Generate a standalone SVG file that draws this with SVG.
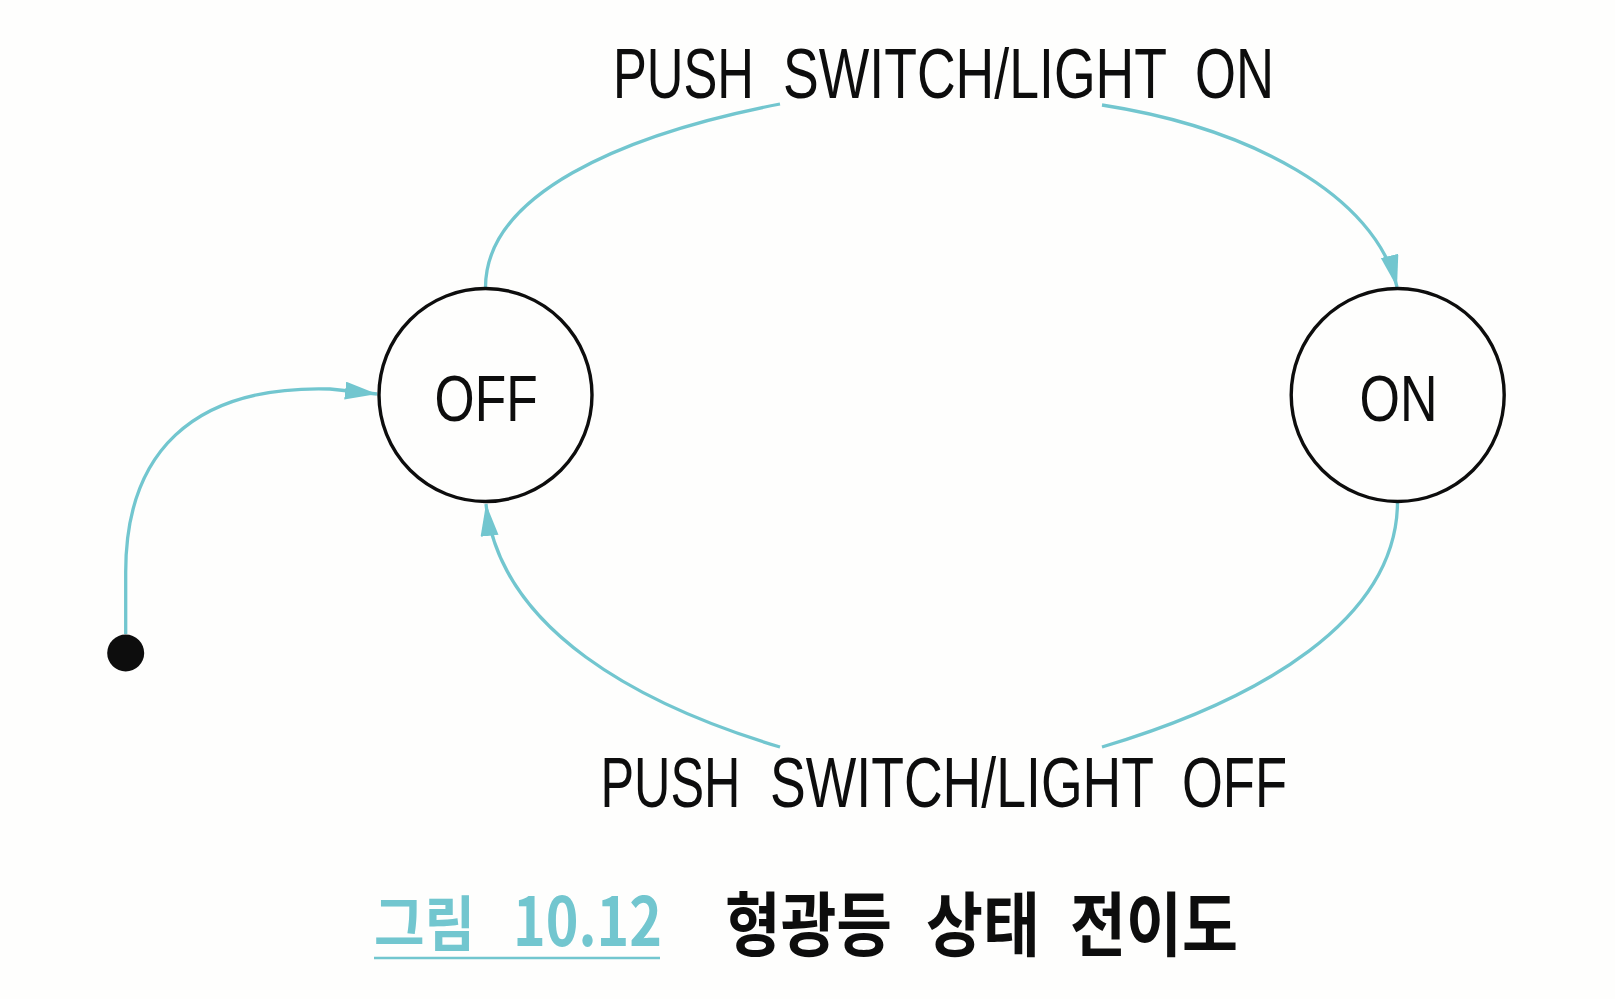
<svg xmlns="http://www.w3.org/2000/svg" width="1615" height="999" viewBox="0 0 1615 999">
<defs>
<style>
.st{fill:#fefefd;stroke:#0d0d0d;stroke-width:3.4}
.lbl{font-family:"Liberation Sans",Arial,sans-serif;fill:#0d0d0d}
.tl{font-family:"Liberation Sans",Arial,sans-serif;fill:#0d0d0d;font-size:52.6px}
.edge{fill:none;stroke:#72c6cf;stroke-width:3.3}
.cap{font-family:"Noto Sans CJK KR","Noto Sans",sans-serif}
</style>
<marker id="ah" markerUnits="userSpaceOnUse" markerWidth="34" markerHeight="20" refX="32" refY="9" orient="auto">
<path d="M0,0 L32,9 L0,18 z" fill="#72c6cf"/>
</marker>
</defs>
<rect width="1615" height="999" fill="#fefefd"/>
<g id="connectors">
<path class="edge" d="M125.7,634 V572 C125.7,455 190,385 330,389 L377,394" marker-end="url(#ah)"/>
<path class="edge" d="M485.5,288 C485,195 620,135 780,104"/>
<path class="edge" d="M1102,105 C1250,128 1375,195 1397,287" marker-end="url(#ah)"/>
<path class="edge" d="M1397.5,502 C1397,620 1260,700 1102,747"/>
<path class="edge" d="M780,747 C640,705 500,630 486,504" marker-end="url(#ah)"/>
</g>
<g id="label-on" transform="translate(0,98) scale(1,1.331)">
<text class="tl" x="613" y="0" textLength="141" lengthAdjust="spacingAndGlyphs">PUSH</text>
<text class="tl" x="783" y="0" textLength="384" lengthAdjust="spacingAndGlyphs">SWITCH/LIGHT</text>
<text class="tl" x="1195" y="0" textLength="79" lengthAdjust="spacingAndGlyphs">ON</text>
</g>
<g id="label-off" transform="translate(0,806.5) scale(1,1.331)">
<text class="tl" x="600.5" y="0" textLength="140" lengthAdjust="spacingAndGlyphs">PUSH</text>
<text class="tl" x="770" y="0" textLength="384" lengthAdjust="spacingAndGlyphs">SWITCH/LIGHT</text>
<text class="tl" x="1182" y="0" textLength="105" lengthAdjust="spacingAndGlyphs">OFF</text>
</g>
<g id="initial">
<circle cx="125.7" cy="653" r="18.5" fill="#0d0d0d"/>
</g>
<g id="state-off">
<circle class="st" cx="485.5" cy="395" r="106.5"/>
<text class="lbl" font-size="64" x="434.6" y="421" textLength="103" lengthAdjust="spacingAndGlyphs">OFF</text>
</g>
<g id="state-on">
<circle class="st" cx="1397.7" cy="395" r="106.5"/>
<text class="lbl" font-size="64" x="1359.6" y="421" textLength="78" lengthAdjust="spacingAndGlyphs">ON</text>
</g>
<g id="caption">
<text class="cap" fill="#72c6cf" font-weight="700" y="946"><tspan font-size="60" x="374" textLength="101" lengthAdjust="spacingAndGlyphs">그림</tspan><tspan font-size="67" x="513" dy="-0.5" textLength="149" lengthAdjust="spacingAndGlyphs">10.12</tspan></text>
<line x1="374" y1="958" x2="660" y2="958" stroke="#72c6cf" stroke-width="2.6"/>
<text class="cap" fill="#0d0d0d" font-weight="700" font-size="70" y="951"><tspan x="725" textLength="167" lengthAdjust="spacingAndGlyphs">형광등</tspan><tspan x="926" textLength="114" lengthAdjust="spacingAndGlyphs">상태</tspan><tspan x="1070" textLength="168" lengthAdjust="spacingAndGlyphs">전이도</tspan></text>
</g>
</svg>
